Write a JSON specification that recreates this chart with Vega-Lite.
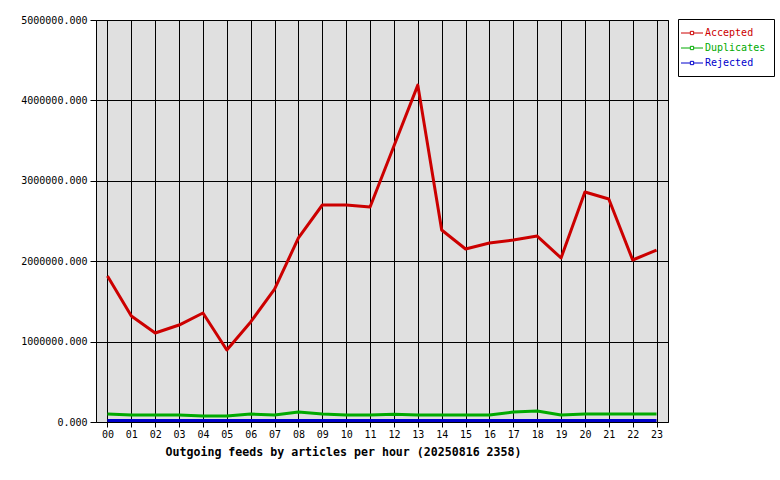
{
  "$schema": "https://vega.github.io/schema/vega-lite/v6.json",
  "width": 572,
  "height": 402,
  "autosize": "none",
  "padding": {"left": 96, "top": 20, "right": 112, "bottom": 58},
  "background": "white",
  "config": {
    "view": {"fill": "#e0e0e0", "stroke": "black", "strokeWidth": 1},
    "font": "DejaVu Sans Mono"
  },
  "data": {"values": [
    {"hour":"00","type":"Accepted","count":1816000},{"hour":"01","type":"Accepted","count":1318000},{"hour":"02","type":"Accepted","count":1107000},{"hour":"03","type":"Accepted","count":1206000},{"hour":"04","type":"Accepted","count":1356000},{"hour":"05","type":"Accepted","count":896000},{"hour":"06","type":"Accepted","count":1244000},{"hour":"07","type":"Accepted","count":1654000},{"hour":"08","type":"Accepted","count":2289000},{"hour":"09","type":"Accepted","count":2699000},{"hour":"10","type":"Accepted","count":2699000},{"hour":"11","type":"Accepted","count":2674000},{"hour":"12","type":"Accepted","count":3433000},{"hour":"13","type":"Accepted","count":4190000},{"hour":"14","type":"Accepted","count":2388000},{"hour":"15","type":"Accepted","count":2152000},{"hour":"16","type":"Accepted","count":2226000},{"hour":"17","type":"Accepted","count":2264000},{"hour":"18","type":"Accepted","count":2313000},{"hour":"19","type":"Accepted","count":2040000},{"hour":"20","type":"Accepted","count":2861000},{"hour":"21","type":"Accepted","count":2774000},{"hour":"22","type":"Accepted","count":2015000},{"hour":"23","type":"Accepted","count":2139000},
    {"hour":"00","type":"Duplicates","count":99000},{"hour":"01","type":"Duplicates","count":87000},{"hour":"02","type":"Duplicates","count":87000},{"hour":"03","type":"Duplicates","count":87000},{"hour":"04","type":"Duplicates","count":75000},{"hour":"05","type":"Duplicates","count":75000},{"hour":"06","type":"Duplicates","count":99000},{"hour":"07","type":"Duplicates","count":87000},{"hour":"08","type":"Duplicates","count":124000},{"hour":"09","type":"Duplicates","count":99000},{"hour":"10","type":"Duplicates","count":87000},{"hour":"11","type":"Duplicates","count":87000},{"hour":"12","type":"Duplicates","count":95000},{"hour":"13","type":"Duplicates","count":87000},{"hour":"14","type":"Duplicates","count":87000},{"hour":"15","type":"Duplicates","count":87000},{"hour":"16","type":"Duplicates","count":87000},{"hour":"17","type":"Duplicates","count":124000},{"hour":"18","type":"Duplicates","count":137000},{"hour":"19","type":"Duplicates","count":87000},{"hour":"20","type":"Duplicates","count":99000},{"hour":"21","type":"Duplicates","count":99000},{"hour":"22","type":"Duplicates","count":99000},{"hour":"23","type":"Duplicates","count":99000},
    {"hour":"00","type":"Rejected","count":18000},{"hour":"01","type":"Rejected","count":18000},{"hour":"02","type":"Rejected","count":18000},{"hour":"03","type":"Rejected","count":18000},{"hour":"04","type":"Rejected","count":18000},{"hour":"05","type":"Rejected","count":18000},{"hour":"06","type":"Rejected","count":18000},{"hour":"07","type":"Rejected","count":18000},{"hour":"08","type":"Rejected","count":18000},{"hour":"09","type":"Rejected","count":18000},{"hour":"10","type":"Rejected","count":18000},{"hour":"11","type":"Rejected","count":18000},{"hour":"12","type":"Rejected","count":18000},{"hour":"13","type":"Rejected","count":18000},{"hour":"14","type":"Rejected","count":18000},{"hour":"15","type":"Rejected","count":18000},{"hour":"16","type":"Rejected","count":18000},{"hour":"17","type":"Rejected","count":18000},{"hour":"18","type":"Rejected","count":18000},{"hour":"19","type":"Rejected","count":18000},{"hour":"20","type":"Rejected","count":18000},{"hour":"21","type":"Rejected","count":18000},{"hour":"22","type":"Rejected","count":18000},{"hour":"23","type":"Rejected","count":18000}
  ]},
  "mark": {"type": "line", "strokeWidth": 3, "strokeJoin": "round"},
  "encoding": {
    "x": {
      "field": "hour", "type": "ordinal",
      "scale": {"type": "point", "padding": 0.48},
      "axis": {
        "title": "Outgoing feeds by articles per hour (20250816 2358)",
        "titleFont": "DejaVu Sans Mono", "titleFontSize": 11.6, "titleFontWeight": "bold", "titleColor": "black",
        "titleAnchor": "start", "titleAlign": "center", "titleX": 247, "titleY": 30, "titleBaseline": "middle",
        "labelFont": "DejaVu Sans Mono", "labelFontSize": 10, "labelColor": "black", "labelAngle": 0, "labelPadding": 2,
        "domain": false, "ticks": true, "tickColor": "black", "tickSize": 5,
        "grid": true, "gridColor": "black", "gridOpacity": 1, "gridWidth": 1
      }
    },
    "y": {
      "field": "count", "type": "quantitative",
      "scale": {"domain": [0, 5000000], "nice": false},
      "axis": {
        "title": null, "values": [0, 1000000, 2000000, 3000000, 4000000, 5000000], "format": ".3f",
        "labelFont": "DejaVu Sans Mono", "labelFontSize": 10, "labelColor": "black", "labelPadding": 3,
        "domain": false, "ticks": true, "tickColor": "black", "tickSize": 6,
        "grid": true, "gridColor": "black", "gridOpacity": 1, "gridWidth": 1
      }
    },
    "color": {
      "field": "type", "type": "nominal",
      "scale": {"domain": ["Accepted", "Duplicates", "Rejected"], "range": ["#cc0000", "#00aa00", "#0000cc"]},
      "legend": {
        "title": null, "orient": "none", "legendX": 582, "legendY": -1,
        "strokeColor": "black", "fillColor": "white", "padding": 8,
        "labelFont": "DejaVu Sans Mono", "labelFontSize": 10, "labelOffset": 7,
        "symbolType": "M-2,0H-0.3M0.3,0H2M-0.3,-0.3H0.3V0.3H-0.3Z", "symbolStrokeWidth": 1, "symbolSize": 121,
        "symbolFillColor": "white",
        "rowPadding": 4,
        "encode": {"labels": {"update": {"fill": {"scale": "color", "field": "value"}}}}
      }
    }
  }
}
